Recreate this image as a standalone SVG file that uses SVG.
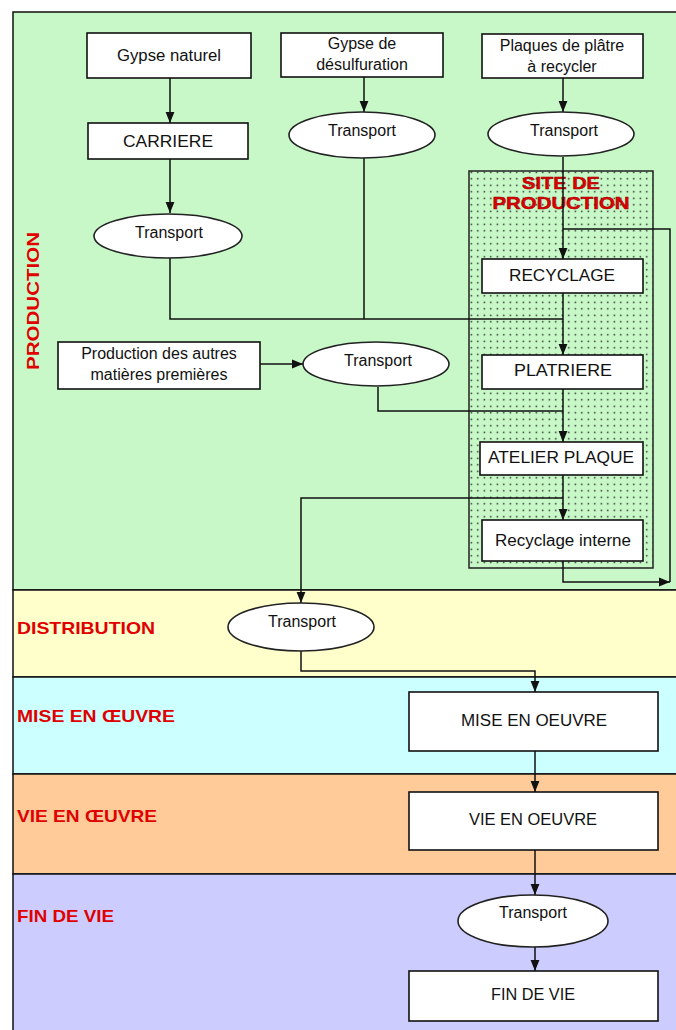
<svg xmlns="http://www.w3.org/2000/svg" width="676" height="1030" viewBox="0 0 676 1030">
<style>
.box{fill:#fff;stroke:#111;stroke-width:1.6}
.ell{fill:#fff;stroke:#222;stroke-width:1.6}
.t{font-family:"Liberation Sans",Arial,sans-serif;font-size:16px;fill:#111;text-anchor:middle}
.lab{font-family:"Liberation Sans",Arial,sans-serif;font-size:17px;font-weight:bold;fill:#e00000}
.c{fill:none;stroke:#111;stroke-width:1.5}
.band{stroke:#111;stroke-width:1.5}
</style>
<defs>
<marker id="ah" markerUnits="userSpaceOnUse" markerWidth="11" markerHeight="11" viewBox="0 0 10 10" refX="10" refY="5" orient="auto">
<path d="M0,1 L10,5 L0,9 Z" fill="#111"/>
</marker>
<pattern id="dots" width="6.5" height="6.5" patternUnits="userSpaceOnUse">
<rect width="6.5" height="6.5" fill="#c8f8c8"/>
<rect x="2.6" y="2.6" width="1.4" height="1.4" fill="#111"/>
</pattern>
</defs>
<rect width="676" height="1030" fill="#fff"/>
<g id="bands">
<rect class="band" x="13" y="12" width="670" height="578" fill="#c8f8c8"/>
<rect class="band" x="13" y="590" width="670" height="87" fill="#ffffcc"/>
<rect class="band" x="13" y="677" width="670" height="97" fill="#ccffff"/>
<rect class="band" x="13" y="774" width="670" height="100" fill="#ffcc99"/>
<rect class="band" x="13" y="874" width="670" height="160" fill="#ccccff"/>
<text class="lab" transform="translate(39,301) rotate(-90)" text-anchor="middle" textLength="138" lengthAdjust="spacingAndGlyphs">PRODUCTION</text>
<text class="lab" x="17" y="634" textLength="138" lengthAdjust="spacingAndGlyphs">DISTRIBUTION</text>
<text class="lab" x="17" y="722" textLength="158" lengthAdjust="spacingAndGlyphs">MISE EN ŒUVRE</text>
<text class="lab" x="17" y="822" textLength="140" lengthAdjust="spacingAndGlyphs">VIE EN ŒUVRE</text>
<text class="lab" x="17" y="922" textLength="97" lengthAdjust="spacingAndGlyphs">FIN DE VIE</text>
</g>
<g id="site">
<rect x="469" y="171" width="184" height="397" fill="url(#dots)" stroke="#222" stroke-width="1.5"/>
<text class="lab" x="561" y="189" text-anchor="middle" stroke="#900" stroke-width="0.5" textLength="78" lengthAdjust="spacingAndGlyphs">SITE DE</text>
<text class="lab" x="561" y="209" text-anchor="middle" stroke="#900" stroke-width="0.5" textLength="137" lengthAdjust="spacingAndGlyphs">PRODUCTION</text>
</g>
<g id="connectors">
<path class="c" d="M170,78 V123" marker-end="url(#ah)"/>
<path class="c" d="M170,159 V213" marker-end="url(#ah)"/>
<path class="c" d="M170,258 V319 H563"/>
<path class="c" d="M364,77 V112" marker-end="url(#ah)"/>
<path class="c" d="M364,158 V319"/>
<path class="c" d="M563,78 V112" marker-end="url(#ah)"/>
<path class="c" d="M563,157 V259" marker-end="url(#ah)"/>
<path class="c" d="M563,229 H670 V582"/>
<path class="c" d="M563,561 V582 H670" marker-end="url(#ah)"/>
<path class="c" d="M563,293 V355" marker-end="url(#ah)"/>
<path class="c" d="M260,364 H303" marker-end="url(#ah)"/>
<path class="c" d="M378,387 V411 H563"/>
<path class="c" d="M563,389 V442" marker-end="url(#ah)"/>
<path class="c" d="M563,475 V520" marker-end="url(#ah)"/>
<path class="c" d="M563,498 H301 V603" marker-end="url(#ah)"/>
<path class="c" d="M301,651 V671 H535 V692" marker-end="url(#ah)"/>
<path class="c" d="M535,751 V792" marker-end="url(#ah)"/>
<path class="c" d="M535,850 V895" marker-end="url(#ah)"/>
<path class="c" d="M535,947 V971" marker-end="url(#ah)"/>
</g>
<g id="gypse-naturel"><rect class="box" x="87" y="33" width="164" height="45"/><text class="t" x="169" y="61" textLength="104" lengthAdjust="spacingAndGlyphs">Gypse naturel</text></g>
<g id="carriere"><rect class="box" x="88" y="123" width="160" height="36"/><text class="t" x="168" y="147" textLength="90" lengthAdjust="spacingAndGlyphs">CARRIERE</text></g>
<g id="transport1"><ellipse class="ell" cx="168" cy="236" rx="74" ry="22"/><text class="t" x="169" y="238">Transport</text></g>
<g id="gypse-desulf"><rect class="box" x="281" y="33" width="162" height="44"/><text class="t" x="362" y="49">Gypse de</text><text class="t" x="362" y="70">désulfuration</text></g>
<g id="transport2"><ellipse class="ell" cx="362" cy="135" rx="73" ry="23"/><text class="t" x="362" y="136">Transport</text></g>
<g id="plaques"><rect class="box" x="482" y="34" width="161" height="44"/><text class="t" x="562" y="51">Plaques de plâtre</text><text class="t" x="562" y="72">à recycler</text></g>
<g id="transport3"><ellipse class="ell" cx="561" cy="134" rx="73" ry="22"/><text class="t" x="564" y="136">Transport</text></g>
<g id="recyclage"><rect class="box" x="482" y="259" width="161" height="34"/><text class="t" x="562" y="281" textLength="106" lengthAdjust="spacingAndGlyphs">RECYCLAGE</text></g>
<g id="autres"><rect class="box" x="58" y="342" width="202" height="47"/><text class="t" x="159" y="359">Production des autres</text><text class="t" x="159" y="380">matières premières</text></g>
<g id="transport4"><ellipse class="ell" cx="376" cy="364" rx="73" ry="22"/><text class="t" x="378" y="366">Transport</text></g>
<g id="platriere"><rect class="box" x="482" y="355" width="161" height="34"/><text class="t" x="563" y="376" textLength="98" lengthAdjust="spacingAndGlyphs">PLATRIERE</text></g>
<g id="atelier"><rect class="box" x="480" y="442" width="163" height="33"/><text class="t" x="561" y="463" textLength="146" lengthAdjust="spacingAndGlyphs">ATELIER PLAQUE</text></g>
<g id="recyclage-interne"><rect class="box" x="482" y="520" width="161" height="41"/><text class="t" x="563" y="546" textLength="136" lengthAdjust="spacingAndGlyphs">Recyclage interne</text></g>
<g id="transport5"><ellipse class="ell" cx="301" cy="627" rx="73" ry="24"/><text class="t" x="302" y="627" font-size="15">Transport</text></g>
<g id="mise"><rect class="box" x="409" y="692" width="249" height="59"/><text class="t" x="534" y="726" font-size="15" textLength="146" lengthAdjust="spacingAndGlyphs">MISE EN OEUVRE</text></g>
<g id="vie"><rect class="box" x="409" y="792" width="249" height="58"/><text class="t" x="533" y="825" font-size="15" textLength="128" lengthAdjust="spacingAndGlyphs">VIE EN OEUVRE</text></g>
<g id="transport6"><ellipse class="ell" cx="533" cy="921" rx="75" ry="26"/><text class="t" x="533" y="918" font-size="15">Transport</text></g>
<g id="fin"><rect class="box" x="409" y="971" width="249" height="50"/><text class="t" x="533" y="1000" font-size="15" textLength="84" lengthAdjust="spacingAndGlyphs">FIN DE VIE</text></g>
</svg>
